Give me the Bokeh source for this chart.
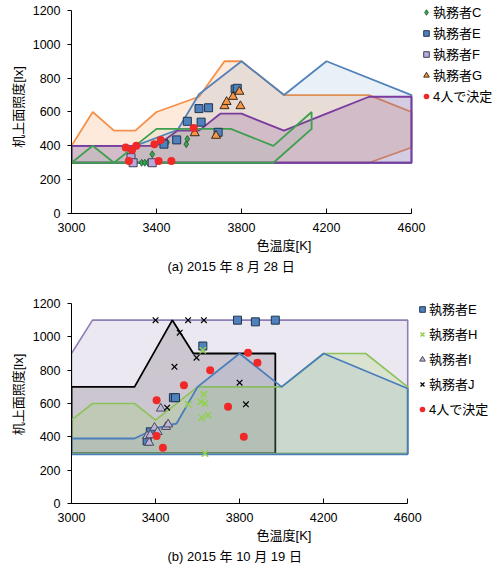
from bokeh.plotting import figure
from bokeh.models import Range1d, Legend, LegendItem, Title, FixedTicker
from bokeh.layouts import column
from bokeh.embed import file_html
from bokeh.resources import INLINE

FONT = "'Liberation Sans', 'Noto Sans CJK JP', sans-serif"

# ---------------- (a) 2015-08-28 ----------------
x_ticks = [3000, 3400, 3800, 4200, 4600]
y_ticks = [0, 200, 400, 600, 800, 1000, 1200]

a_G_reg_k = [3000, 3100, 3200, 3300, 3400, 3600, 3720, 3800, 4000, 4400, 4600, 4600, 4400, 3000]
a_G_reg_v = [400, 600, 490, 490, 600, 690, 900, 900, 700, 700, 600, 390, 300, 300]
a_E_reg_k = [3000, 3300, 3500, 3600, 3800, 4000, 4200, 4600, 4600, 3000]
a_E_reg_v = [400, 400, 495, 705, 900, 700, 900, 700, 300, 300]
a_F_reg_k = [3000, 3400, 3500, 3600, 3700, 3800, 4000, 4200, 4400, 4600, 4600, 3000]
a_F_reg_v = [400, 400, 490, 490, 590, 590, 490, 590, 690, 690, 300, 300]
a_C_reg_k = [3000, 3100, 3200, 3400, 3750, 3950, 4130, 4130, 3950, 3000]
a_C_reg_v = [300, 400, 300, 500, 500, 400, 600, 500, 300, 300]

a_C_k = [3330, 3345, 3360, 3380, 3450, 3540, 3545]
a_C_v = [300, 300, 300, 350, 420, 410, 440]
a_E_k = [3435, 3495, 3545, 3600, 3610, 3645, 3690, 3770, 3780]
a_E_v = [410, 435, 545, 620, 540, 625, 480, 735, 740]
a_F_k = [3280, 3290, 3380]
a_F_v = [330, 300, 300]
a_G_k = [3580, 3680, 3720, 3730, 3760, 3790, 3795]
a_G_v = [475, 460, 635, 660, 690, 720, 635]
a_R_k = [3255, 3270, 3285, 3305, 3390, 3410, 3420, 3470, 3575]
a_R_v = [390, 310, 375, 400, 410, 310, 435, 310, 505]

# ---------------- (b) 2015-10-19 ----------------
b_F_reg_k = [3000, 3100, 4600, 4600, 3000]
b_F_reg_v = [900, 1100, 1100, 300, 300]
b_J_reg_k = [3000, 3300, 3480, 3580, 3970, 3970, 3000]
b_J_reg_v = [700, 700, 1100, 900, 900, 300, 300]
b_H_reg_k = [3000, 3100, 3300, 3400, 3600, 4000, 4200, 4400, 4600, 4600, 3000]
b_H_reg_v = [500, 600, 600, 500, 700, 700, 900, 900, 700, 300, 300]
b_E_reg_k = [3000, 3300, 3400, 3500, 3600, 3800, 4000, 4200, 4600, 4600, 3000]
b_E_reg_v = [390, 390, 450, 480, 700, 900, 700, 900, 690, 295, 295]

b_E_k = [3360, 3375, 3485, 3495, 3625, 3790, 3875, 3970]
b_E_v = [375, 430, 635, 635, 945, 1100, 1090, 1100]
b_H_k = [3555, 3615, 3620, 3625, 3630, 3635, 3650, 3635]
b_H_v = [595, 610, 515, 920, 655, 600, 530, 300]
b_I_k = [3360, 3370, 3375, 3395, 3410, 3425, 3450, 3460]
b_I_v = [405, 365, 410, 455, 430, 570, 460, 475]
b_J_k = [3400, 3455, 3490, 3515, 3555, 3595, 3630, 3800, 3830]
b_J_v = [1100, 575, 820, 1025, 1100, 875, 1100, 725, 595]
b_R_k = [3405, 3405, 3435, 3535, 3660, 3745, 3820, 3840, 3885]
b_R_v = [620, 405, 335, 710, 800, 580, 400, 905, 845]


def make_fig(height, mbl, mbb, x_end, y_end):
    p = figure(width=496, height=height, output_backend="svg", toolbar_location=None,
               x_range=Range1d(3000, x_end), y_range=Range1d(0, y_end),
               min_border_left=mbl, min_border_right=0,
               min_border_top=0, min_border_bottom=mbb)
    p.outline_line_color = None
    p.xgrid.grid_line_color = None
    p.ygrid.grid_line_color = None
    p.xaxis.ticker = FixedTicker(ticks=x_ticks)
    p.yaxis.ticker = FixedTicker(ticks=y_ticks)
    p.xaxis.bounds = (3000, 4600)
    p.yaxis.bounds = (0, 1200)
    for ax in (p.xaxis[0], p.yaxis[0]):
        ax.axis_line_color = "black"
        ax.major_tick_line_color = "black"
        ax.minor_tick_line_color = None
        ax.major_label_text_font = FONT
        ax.major_label_text_font_size = "12.5px"
        ax.major_label_text_color = "black"
        ax.axis_label_text_font = FONT
        ax.axis_label_text_font_size = "13px"
        ax.axis_label_text_font_style = "normal"
        ax.axis_label_text_color = "black"
    p.xaxis.major_tick_in = 5
    p.xaxis.major_tick_out = 0
    p.xaxis.major_label_standoff = 9
    p.xaxis.axis_label_standoff = 3
    p.yaxis.major_tick_in = 0
    p.yaxis.major_tick_out = 4
    p.yaxis.major_label_standoff = 7
    p.yaxis.axis_label_standoff = 4
    p.xaxis.axis_label = "色温度[K]"
    p.yaxis.axis_label = "机上面照度[lx]"
    return p


def make_legend(items, vx, vy, spacing):
    return Legend(items=items, location=(vx, vy), orientation="vertical",
                  border_line_color=None, background_fill_alpha=0,
                  padding=0, margin=0, spacing=spacing,
                  glyph_width=14, glyph_height=18, label_height=18, label_standoff=0,
                  label_text_font=FONT, label_text_font_size="13px", label_text_color="black")


# ----- top -----  frame: x 71..496 (3000..5000), y 0..213 (0..1259)
p1 = make_fig(285, 71, 72, 5000, 1259)
p1.patch(a_G_reg_k, a_G_reg_v, fill_color="#F79646", fill_alpha=0.2, line_color="#F4904A", line_width=1.8)
p1.patch(a_E_reg_k, a_E_reg_v, fill_color="#4F81BD", fill_alpha=0.12, line_color="#5383BA", line_width=1.8)
p1.patch(a_F_reg_k, a_F_reg_v, fill_color="#7A3A90", fill_alpha=0.2, line_color="#7A3A9E", line_width=1.8)
p1.patch(a_C_reg_k, a_C_reg_v, fill_color="#4BAC5B", fill_alpha=0.06, line_color="#3F9F4F", line_width=1.8)

rC = p1.scatter(a_C_k, a_C_v, marker="diamond", size=7, fill_color="#35A853", line_color="#1F4F2A", line_width=0.8)
rE = p1.scatter(a_E_k, a_E_v, marker="square", size=8, fill_color="#4F81BD", line_color="#1F3550", line_width=1)
rF = p1.scatter(a_F_k, a_F_v, marker="square", size=8, fill_color="#B9A9DC", line_color="#3F3F5A", line_width=1)
rG = p1.scatter(a_G_k, a_G_v, marker="triangle", size=9, fill_color="#F79646", line_color="#3A2A1A", line_width=1)
rR = p1.scatter(a_R_k, a_R_v, marker="circle", size=8, fill_color="#F02828", line_color=None)

p1.add_layout(make_legend([
    LegendItem(label="執務者C", renderers=[rC]),
    LegendItem(label="執務者E", renderers=[rE]),
    LegendItem(label="執務者F", renderers=[rF]),
    LegendItem(label="執務者G", renderers=[rG]),
    LegendItem(label="4人で決定", renderers=[rR]),
], 348, 108, 2))
p1.add_layout(Title(text="(a) 2015 年 8 月 28 日", align="left", offset=96, standoff=2,
                    text_font=FONT, text_font_size="13px", text_font_style="normal",
                    text_color="black"), "below")

# ----- bottom -----  frame: x 70..496 (3000..5022.6), y 0..218 (0..1308)
p2 = make_fig(279, 70, 61, 5022.6, 1308)
p2.patch(b_F_reg_k, b_F_reg_v, fill_color="#8064A2", fill_alpha=0.15, line_color="#8F7DB5", line_width=1.6)
p2.patch(b_J_reg_k, b_J_reg_v, fill_color="#504050", fill_alpha=0.2, line_color="black", line_width=1.8)
p2.patch(b_H_reg_k, b_H_reg_v, fill_color="#92D050", fill_alpha=0.2, line_color="#8CC25A", line_width=1.6)
p2.patch(b_E_reg_k, b_E_reg_v, fill_color="#4F81BD", fill_alpha=0.1, line_color="#4A7EBB", line_width=1.8)

sE = p2.scatter(b_E_k, b_E_v, marker="square", size=8, fill_color="#4F81BD", line_color="#1F3550", line_width=1)
sH = p2.scatter(b_H_k, b_H_v, marker="x", size=9, line_color="#92D050", line_width=1.5)
sI = p2.scatter(b_I_k, b_I_v, marker="triangle", size=9, fill_color="#BDB5D5", line_color="#4A4A60", line_width=1)
sJ = p2.scatter(b_J_k, b_J_v, marker="x", size=8, line_color="black", line_width=1.2)
sR = p2.scatter(b_R_k, b_R_v, marker="circle", size=8, fill_color="#F02828", line_color=None)

p2.add_layout(make_legend([
    LegendItem(label="執務者E", renderers=[sE]),
    LegendItem(label="執務者H", renderers=[sH]),
    LegendItem(label="執務者I", renderers=[sI]),
    LegendItem(label="執務者J", renderers=[sJ]),
    LegendItem(label="4人で決定", renderers=[sR]),
], 344, 85, 6))
p2.add_layout(Title(text="(b) 2015 年 10 月 19 日", align="left", offset=96, standoff=2,
                    text_font=FONT, text_font_size="13px", text_font_style="normal",
                    text_color="black"), "below")

layout = column(p1, p2)
open("out.html", "w").write(file_html(layout, INLINE))
